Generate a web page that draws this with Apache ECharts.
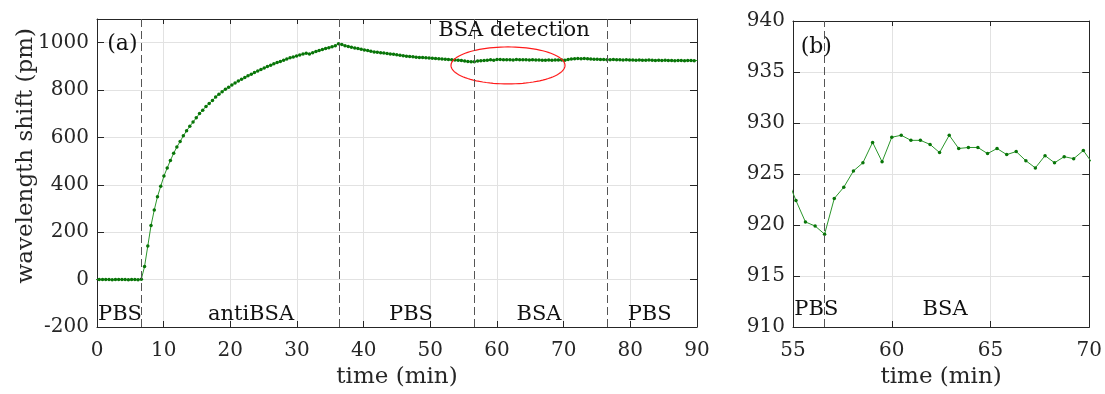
<!DOCTYPE html>
<html>
<head>
<meta charset="utf-8">
<script src="https://cdn.jsdelivr.net/npm/echarts@6/dist/echarts.min.js"></script>
<style>
html,body{margin:0;padding:0;background:#fff;}
#chart{width:1105px;height:394px;}
</style>
</head>
<body>
<div id="chart"></div>
<script>
// ---------- data ----------
const times = [-0.15, 0.34, 0.83, 1.31, 1.80, 2.28, 2.77, 3.25, 3.74, 4.22, 4.71, 5.19, 5.68, 6.16, 6.65,
  7.13, 7.62, 8.10, 8.59, 9.07, 9.56, 10.04, 10.53, 11.01, 11.50, 11.98, 12.47, 12.95, 13.44, 13.92,
  14.41, 14.89, 15.38, 15.86, 16.35, 16.83, 17.32, 17.80, 18.29, 18.77, 19.26, 19.74, 20.23, 20.71,
  21.20, 21.68, 22.17, 22.65, 23.14, 23.62, 24.11, 24.59, 25.08, 25.56, 26.05, 26.53, 27.02, 27.50,
  27.99, 28.47, 28.96, 29.44, 29.93, 30.41, 30.90, 31.38, 31.87, 32.35, 32.84, 33.32, 33.81, 34.29,
  34.78, 35.26, 35.75, 36.23, 36.72, 37.20, 37.69, 38.17, 38.66, 39.14, 39.63, 40.11, 40.60, 41.08,
  41.57, 42.05, 42.54, 43.02, 43.51, 43.99, 44.48, 44.96, 45.45, 45.93, 46.42, 46.90, 47.39, 47.87,
  48.36, 48.84, 49.33, 49.81, 50.30, 50.78, 51.27, 51.75, 52.24, 52.72, 53.21, 53.69, 54.18, 54.66,
  55.15, 55.63, 56.12, 56.60, 57.09, 57.57, 58.06, 58.54, 59.03, 59.51, 60.00, 60.48, 60.97, 61.45,
  61.94, 62.42, 62.91, 63.39, 63.88, 64.36, 64.85, 65.33, 65.82, 66.30, 66.79, 67.27, 67.76, 68.24,
  68.73, 69.21, 69.70, 70.18, 70.67, 71.15, 71.64, 72.12, 72.61, 73.09, 73.58, 74.06, 74.55, 75.03,
  75.52, 76.00, 76.49, 76.97, 77.46, 77.94, 78.43, 78.91, 79.40, 79.88, 80.37, 80.85, 81.34, 81.82,
  82.31, 82.79, 83.28, 83.76, 84.25, 84.73, 85.22, 85.70, 86.19, 86.67, 87.16, 87.64, 88.13, 88.61,
  89.10, 89.58, 90.07];

const shift = [0,
  1, 0, 1, 0, -1, 0, 1, 0, 0, -1, 0, 0, -1, 2,
  55, 142, 228, 294, 350, 394, 437, 471, 503, 533, 560, 583, 607, 628, 647, 665, 683, 701, 715, 731, 743, 756, 771,
  782, 793, 803, 812, 821, 830, 838, 846, 853, 860, 867, 874, 880, 887, 893, 899, 905, 911, 916, 921,
  926, 931, 936, 940, 944, 948, 952, 955, 952, 958, 963, 967, 971, 975, 979, 983, 987,
  996, 992, 987, 984, 981, 978, 975, 972, 969, 967, 964, 961, 960, 958, 956, 954, 952, 951, 949, 947,
  945, 943, 942, 941, 939, 938, 937, 936, 935, 934, 933, 932, 931, 930, 929, 928, 927, 926,
  924.8, 922.4, 920.3, 919.9, 919.1, 922.6, 923.7, 925.3, 926.1, 928.1, 926.2, 928.6, 928.8, 928.3, 928.3,
  927.9, 927.1, 928.8, 927.5, 927.6, 927.6, 927.0, 927.5, 926.9, 927.2, 926.3, 925.6, 926.8, 926.1, 926.7,
  926.5, 927.3, 926.0,
  929, 931, 932, 933, 932, 933, 932, 931, 930, 930, 929, 929, 928, 928, 929, 928, 928, 927, 928, 927,
  927, 926, 927, 926, 926, 927, 926, 925, 926, 925, 926, 925, 925, 924, 925, 925, 924, 925, 925, 924, 925];

// phase boundaries (min) marked by dashed lines
const boundariesA = [6.6, 36.35, 56.6, 76.5];
const boundariesB = [56.6];

// phase names and the time at which each name is centred
const phasesA = ['PBS', 'antiBSA', 'PBS', 'BSA', 'PBS'];
const phaseMidA = [3.45, 23.1, 47.1, 66.3, 82.9];
const phasesB = ['PBS', 'BSA'];
const phaseMidB = [56.18, 62.7];

// highlighted region (ellipse): centre time, centre shift, half-width (min), half-height (pm)
const highlight = [61.65, 904, 8.55, 78];

// ---------- chart ----------
const FONT = 'DejaVu Serif';
const TXT = '#262626';
const GRIDC = '#e2e2e2';
const LINEC = '#2b962b';
const DOTC = '#087508';

const pairs = times.map((t, i) => [t, shift[i]]);

function xMain(grid, min, max, interval) {
  return {
    type: 'value', gridIndex: grid, min, max, interval, position: 'bottom',
    axisLine: {show: true, onZero: false, lineStyle: {color: TXT, width: 1}},
    axisTick: {show: true, inside: true, length: 6, lineStyle: {color: TXT}},
    axisLabel: {fontFamily: FONT, fontSize: 20, color: TXT, margin: 14},
    splitLine: {show: true, lineStyle: {color: GRIDC, width: 1}},
    name: 'time (min)', nameLocation: 'middle', nameGap: 39,
    nameTextStyle: {fontFamily: FONT, fontSize: 23, color: TXT}
  };
}
function xTop(grid, min, max, interval) {
  return {
    type: 'value', gridIndex: grid, min, max, interval, position: 'top',
    axisLine: {show: true, onZero: false, lineStyle: {color: TXT, width: 1}},
    axisTick: {show: true, inside: true, length: 5, lineStyle: {color: TXT}},
    axisLabel: {show: false}, splitLine: {show: false}
  };
}
function yMain(grid, min, max, interval, hideAbove) {
  return {
    type: 'value', gridIndex: grid, min, max, interval, position: 'left',
    axisLine: {show: true, onZero: false, lineStyle: {color: TXT, width: 1}},
    axisTick: {show: true, inside: true, length: 7, lineStyle: {color: TXT}},
    axisLabel: {
      fontFamily: FONT, fontSize: 20, color: TXT, margin: 8,
      formatter: v => (v > hideAbove ? '' : String(v))
    },
    splitLine: {show: true, lineStyle: {color: GRIDC, width: 1}}
  };
}
function yRight(grid, min, max, interval) {
  return {
    type: 'value', gridIndex: grid, min, max, interval, position: 'right',
    axisLine: {show: true, onZero: false, lineStyle: {color: TXT, width: 1}},
    axisTick: {show: true, inside: true, length: 7, lineStyle: {color: TXT}},
    axisLabel: {show: false}, splitLine: {show: false}
  };
}
function dashed(list) {
  return {
    silent: true, symbol: ['none', 'none'], label: {show: false},
    lineStyle: {type: [8, 4], color: '#555555', width: 1},
    emphasis: {disabled: true},
    data: list.map(x => ({xAxis: x}))
  };
}

const chart = echarts.init(document.getElementById('chart'), null, {renderer: 'canvas'});
chart.setOption({
  animation: false,
  backgroundColor: '#ffffff',
  grid: [
    {left: 97, top: 19, width: 600, height: 312},
    {left: 793, top: 21, width: 300, height: 308}
  ],
  xAxis: [xMain(0, 0, 90, 10), xTop(0, 0, 90, 10), xMain(1, 55, 70, 5), xTop(1, 55, 70, 5)],
  yAxis: [yMain(0, -200, 1100, 200, 1000), yRight(0, -200, 1100, 200), yMain(1, 910, 940, 5, 940), yRight(1, 910, 940, 5)],
  series: [
    {
      type: 'line', xAxisIndex: 0, yAxisIndex: 0, data: pairs, clip: true,
      symbol: 'circle', symbolSize: 3.5, showSymbol: true,
      lineStyle: {color: LINEC, width: 1}, itemStyle: {color: DOTC},
      markLine: dashed(boundariesA), z: 3
    },
    {
      type: 'line', xAxisIndex: 2, yAxisIndex: 2, data: pairs, clip: true,
      symbol: 'circle', symbolSize: 3.5, showSymbol: true,
      lineStyle: {color: LINEC, width: 1}, itemStyle: {color: DOTC},
      markLine: dashed(boundariesB), z: 3
    },
    {
      type: 'custom', xAxisIndex: 0, yAxisIndex: 0, silent: true, z: 4, clip: false,
      data: [highlight],
      renderItem: function (params, api) {
        const c = api.coord([api.value(0), api.value(1)]);
        const s = api.size([api.value(2), api.value(3)]);
        const pts = [];
        for (let i = 0; i <= 96; i++) {
          const a = i / 96 * Math.PI * 2;
          pts.push([c[0] + s[0] * Math.cos(a), c[1] + s[1] * Math.sin(a)]);
        }
        return {type: 'polyline', shape: {points: pts}, style: {stroke: '#ff1a1a', fill: null, lineWidth: 1.2}};
      }
    }
  ]
});

// ---------- text annotations placed through the axes' own scales ----------
function textAt(grid, x, y, text, size) {
  const p = chart.convertToPixel({gridIndex: grid}, [x, y]);
  return {
    type: 'text', x: p[0], y: p[1], z: 10, silent: true,
    style: {text, font: size + 'px "DejaVu Serif"', fill: '#111111', align: 'center', verticalAlign: 'middle'}
  };
}
const g = [{
  type: 'text', left: 15, top: 28, rotation: Math.PI / 2, silent: true,
  style: {text: 'wavelength shift (pm)', font: '23px "DejaVu Serif"', fill: TXT}
}];
phasesA.forEach((n, i) => g.push(textAt(0, phaseMidA[i], -146, n, 21)));
phasesB.forEach((n, i) => g.push(textAt(1, phaseMidB[i], 911.7, n, 21)));
g.push(textAt(0, 62.55, 1050, 'BSA detection', 21));
g.push(textAt(0, 3.8, 992, '(a)', 22));
g.push(textAt(1, 56.18, 937.4, '(b)', 22));
chart.setOption({graphic: g});
</script>
</body>
</html>
